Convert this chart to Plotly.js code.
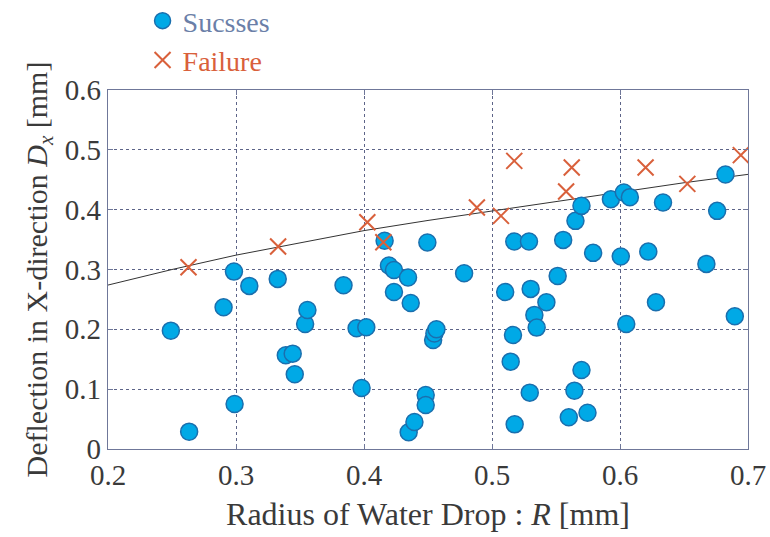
<!DOCTYPE html>
<html>
<head>
<meta charset="utf-8">
<script src="https://cdn.plot.ly/plotly-3.0.1.min.js"></script>
<style>
  html, body { margin: 0; padding: 0; background: #ffffff; }
  #chart { width: 770px; height: 537px; }
</style>
</head>
<body>
<div id="chart"></div>
<script>
// Drops that passed: radius R [mm] and deflection Dx [mm]
const successR = [
  0.2491, 0.2634, 0.2903, 0.2984, 0.2989, 0.3104, 0.3326, 0.3389, 0.3443, 0.3459,
  0.3540, 0.3558, 0.3840, 0.3942, 0.3981, 0.4018, 0.4161, 0.4195, 0.4234, 0.4234,
  0.4344, 0.4349, 0.4365, 0.4394, 0.4482, 0.4482, 0.4495, 0.4540, 0.4550, 0.4566,
  0.4782, 0.5103, 0.5146, 0.5164, 0.5174, 0.5177, 0.5289, 0.5295, 0.5302, 0.5331,
  0.5349, 0.5425, 0.5513, 0.5556, 0.5600, 0.5644, 0.5652, 0.5699, 0.5699, 0.5746,
  0.5790, 0.5929, 0.6006, 0.6030, 0.6049, 0.6077, 0.6221, 0.6281, 0.6336, 0.6675,
  0.6759, 0.6824, 0.6897
];
const successDx = [
  0.1978, 0.0290, 0.2370, 0.2965, 0.0753, 0.2726, 0.2843, 0.1567, 0.1594, 0.1249,
  0.2090, 0.2324, 0.2737, 0.2018, 0.1020, 0.2035, 0.3480, 0.3066, 0.2993, 0.2625,
  0.2865, 0.0279, 0.2441, 0.0452, 0.0903, 0.0736, 0.3450, 0.1823, 0.1930, 0.2001,
  0.2938, 0.2625, 0.1460, 0.1906, 0.3467, 0.0412, 0.3467, 0.0942, 0.2676, 0.2241,
  0.2029, 0.2453, 0.2893, 0.3495, 0.0530, 0.0975, 0.3813, 0.4064, 0.1321, 0.0607,
  0.3278, 0.4175, 0.3216, 0.4286, 0.2090, 0.4209, 0.3299, 0.2453, 0.4119, 0.3094,
  0.3980, 0.4587, 0.2219
];

// Drops that failed
const failureR  = [0.2629, 0.3329, 0.4026, 0.4151, 0.4882, 0.5070, 0.5174, 0.5579, 0.5623, 0.6200, 0.6526, 0.6944];
const failureDx = [0.3038, 0.3383, 0.3790, 0.3456, 0.4035, 0.3896, 0.4816, 0.4303, 0.4705, 0.4705, 0.4431, 0.4911];

// Boundary curve between the two groups
const boundaryR  = [0.20, 0.25, 0.30, 0.35, 0.40, 0.45, 0.50, 0.55, 0.60, 0.65, 0.70];
const boundaryDx = [0.274, 0.300, 0.324, 0.345, 0.365, 0.382, 0.398, 0.414, 0.430, 0.445, 0.459];

// Axis ticks
const xTicks = [0.2, 0.3, 0.4, 0.5, 0.6, 0.7];
const xTickText = ['0.2', '0.3', '0.4', '0.5', '0.6', '0.7'];
const yTicks = [0, 0.1, 0.2, 0.3, 0.4, 0.5, 0.6];
const yTickText = ['0', '0.1', '0.2', '0.3', '0.4', '0.5', '0.6'];

const serif = 'Liberation Serif';
const frameColor = '#6f7799';
const gridColor = '#5d6488';

const traces = [
  {
    x: boundaryR, y: boundaryDx,
    mode: 'lines', type: 'scatter',
    line: { color: '#333333', width: 1 },
    showlegend: false, hoverinfo: 'skip'
  },
  {
    x: successR, y: successDx,
    mode: 'markers', type: 'scatter',
    name: '<span style="color:#6b7fa8">Sucsses</span>',
    marker: { symbol: 'circle', size: 17, color: '#00a9e6', line: { color: '#1a6fae', width: 1.5 } }
  },
  {
    x: failureR, y: failureDx,
    mode: 'markers', type: 'scatter',
    name: '<span style="color:#d9603b">Failure</span>',
    marker: { symbol: 'x-thin', size: 16, color: '#d9603b', line: { color: '#d9603b', width: 2 } }
  }
];

const axisCommon = {
  showline: true, linecolor: frameColor, linewidth: 1.2, mirror: 'ticks',
  ticks: 'inside', ticklen: 5, tickcolor: frameColor, tickwidth: 1,
  showgrid: true, gridcolor: gridColor, gridwidth: 1, griddash: 'dot',
  zeroline: false, tickmode: 'array',
  tickfont: { family: serif, size: 29, color: '#3a3a3a' }
};

const layout = {
  width: 770, height: 537,
  margin: { l: 108, r: 22, t: 90, b: 88, autoexpand: false },
  paper_bgcolor: '#ffffff', plot_bgcolor: '#ffffff',
  font: { family: serif, color: '#333333' },
  xaxis: Object.assign({}, axisCommon, {
    range: [0.2, 0.7], tickvals: xTicks, ticktext: xTickText,
    title: { text: 'Radius of Water Drop : <i>R</i> [mm]', font: { family: serif, size: 32, color: '#3a3a3a' }, standoff: 12 }
  }),
  yaxis: Object.assign({}, axisCommon, {
    range: [0, 0.6], tickvals: yTicks, ticktext: yTickText,
    title: { text: 'Deflection in X-direction <i>D</i><sub><i>x</i></sub> [mm]', font: { family: serif, size: 30, color: '#3a3a3a' }, standoff: 8 }
  }),
  legend: {
    x: 0.054, xanchor: 'left', y: 1.262, yanchor: 'top',
    bgcolor: 'rgba(0,0,0,0)', borderwidth: 0,
    font: { family: serif, size: 28 },
    tracegroupgap: 0
  },
  showlegend: true
};

Plotly.newPlot('chart', traces, layout, { staticPlot: true, displayModeBar: false });
</script>
</body>
</html>
